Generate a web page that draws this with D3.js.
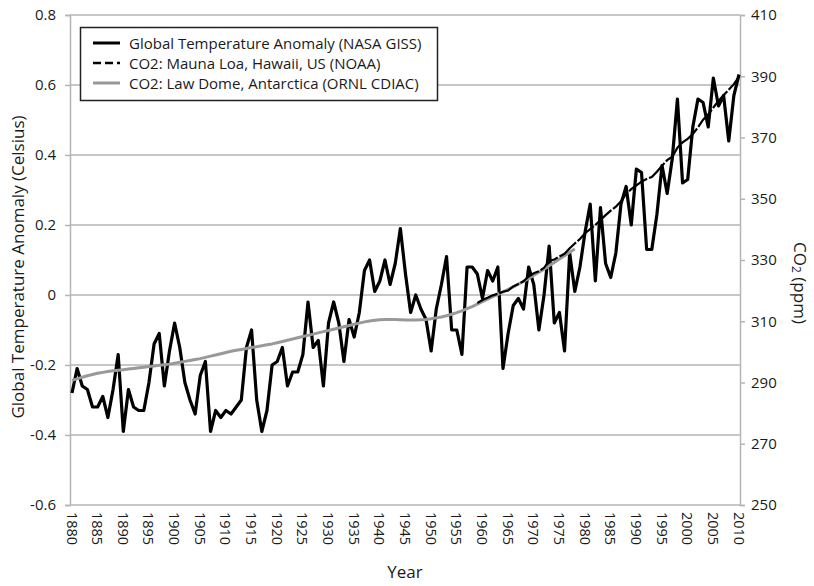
<!DOCTYPE html>
<html>
<head>
<meta charset="utf-8">
<script src="https://cdn.jsdelivr.net/npm/d3@7"></script>
<style>
  html, body { margin: 0; padding: 0; background: #fff; }
  svg text { font-family: "Open Sans", "Noto Sans", sans-serif; fill: #1a1a1a; }
</style>
</head>
<body>
<svg id="chart" width="814" height="586"></svg>
<script>
// Global temperature anomaly, NASA GISS annual means, 1880-2010 (°C)
const gissStartYear = 1880;
const gissAnomaly = [
  -0.28,-0.21,-0.26,-0.27,-0.32,-0.32,-0.29,-0.35,-0.27,-0.17,
  -0.39,-0.27,-0.32,-0.33,-0.33,-0.25,-0.14,-0.11,-0.26,-0.16,
  -0.08,-0.15,-0.25,-0.30,-0.34,-0.23,-0.19,-0.39,-0.33,-0.35,
  -0.33,-0.34,-0.32,-0.30,-0.15,-0.10,-0.30,-0.39,-0.33,-0.20,
  -0.19,-0.15,-0.26,-0.22,-0.22,-0.17,-0.02,-0.15,-0.13,-0.26,
  -0.08,-0.02,-0.08,-0.19,-0.07,-0.12,-0.05, 0.07, 0.10, 0.01,
   0.04, 0.10, 0.03, 0.09, 0.19, 0.06,-0.05, 0.00,-0.04,-0.07,
  -0.16,-0.04, 0.03, 0.11,-0.10,-0.10,-0.17, 0.08, 0.08, 0.06,
  -0.01, 0.07, 0.04, 0.08,-0.21,-0.11,-0.03,-0.01,-0.04, 0.08,
   0.03,-0.10, 0.00, 0.14,-0.08,-0.05,-0.16, 0.12, 0.01, 0.08,
   0.18, 0.26, 0.04, 0.25, 0.09, 0.05, 0.12, 0.26, 0.31, 0.20,
   0.36, 0.35, 0.13, 0.13, 0.23, 0.37, 0.29, 0.39, 0.56, 0.32,
   0.33, 0.48, 0.56, 0.55, 0.48, 0.62, 0.54, 0.57, 0.44, 0.57,
   0.63
];

// CO2, Mauna Loa annual means 1959-2010 (ppm)
const maunaLoaStartYear = 1959;
const maunaLoaCO2 = [
  315.97,316.91,317.64,318.45,318.99,319.62,320.04,321.38,322.16,323.04,
  324.62,325.68,326.32,327.45,329.68,330.18,331.11,332.04,333.83,335.40,
  336.84,338.75,340.11,341.45,343.05,344.65,346.12,347.42,349.19,351.57,
  353.12,354.39,355.61,356.45,357.10,358.83,360.82,362.61,363.73,366.70,
  368.38,369.55,371.14,373.28,375.80,377.52,379.80,381.90,383.79,385.60,
  387.43,389.90
];

// CO2, Law Dome ice core (smoothed) 1880-1978 (ppm)
const lawDomeStartYear = 1880;
const lawDomeCO2 = [
  290.7,291.2,291.7,292.2,292.6,293.0,293.3,293.6,293.8,294.0,
  294.2,294.4,294.6,294.8,295.0,295.2,295.4,295.6,295.8,296.0,
  296.3,296.6,296.9,297.2,297.5,297.8,298.2,298.6,299.0,299.4,
  299.8,300.2,300.5,300.8,301.1,301.4,301.7,302.0,302.3,302.6,
  303.0,303.4,303.8,304.2,304.6,305.0,305.4,305.8,306.2,306.6,
  307.0,307.4,307.8,308.2,308.6,309.0,309.4,309.8,310.1,310.3,
  310.5,310.6,310.6,310.6,310.5,310.4,310.4,310.4,310.5,310.6,
  310.8,311.1,311.4,311.8,312.3,312.8,313.4,314.1,314.8,315.6,
  316.4,317.2,318.0,318.8,319.6,320.4,321.2,322.1,323.0,324.0,
  325.0,326.0,327.0,328.1,329.2,330.3,331.4,332.5,333.6
];

// Axis ticks
const yearTicks = [1880,1885,1890,1895,1900,1905,1910,1915,1920,1925,1930,1935,1940,
                   1945,1950,1955,1960,1965,1970,1975,1980,1985,1990,1995,2000,2005,2010];
const tempTicks = [-0.6,-0.4,-0.2,0,0.2,0.4,0.6,0.8];
const co2Ticks = [250,270,290,310,330,350,370,390,410];

// Legend entries
const legendItems = [
  {label: "Global Temperature Anomaly (NASA GISS)", stroke: "#000", dash: null, width: 3},
  {label: "CO2: Mauna Loa, Hawaii, US (NOAA)", stroke: "#000", dash: "8,4", width: 2.5},
  {label: "CO2: Law Dome, Antarctica (ORNL CDIAC)", stroke: "#999", dash: null, width: 3}
];

const toSeries = (start, values) => values.map((v, i) => ({year: start + i, value: v}));
const tempData = toSeries(gissStartYear, gissAnomaly);
const maunaLoa = toSeries(maunaLoaStartYear, maunaLoaCO2);
const lawDome = toSeries(lawDomeStartYear, lawDomeCO2);

const plot = {left: 70, right: 740, top: 15, bottom: 505};

const x = d3.scaleLinear().domain([1880, 2010]).range([72, 739]);
const yT = d3.scaleLinear().domain([-0.6, 0.8]).range([plot.bottom, plot.top]);
const yC = d3.scaleLinear().domain([250, 410]).range([plot.bottom, plot.top]);

const svg = d3.select("#chart");
const gridColor = "#b5b5b5";

// Horizontal gridlines at the temperature ticks
svg.append("g")
  .selectAll("line")
  .data(tempTicks)
  .join("line")
  .attr("x1", plot.left).attr("x2", plot.right)
  .attr("y1", d => yT(d)).attr("y2", d => yT(d))
  .attr("stroke", gridColor).attr("stroke-width", 1.5);

// Left axis
const fmtTemp = d => d === 0 ? "0" : d.toFixed(1);
const leftAxis = svg.append("g")
  .attr("transform", `translate(${plot.left},0)`)
  .call(d3.axisLeft(yT).tickValues(tempTicks).tickSize(5).tickPadding(9).tickFormat(fmtTemp));
leftAxis.select(".domain").attr("stroke", gridColor).attr("stroke-width", 1.5);
leftAxis.selectAll(".tick line").attr("stroke", gridColor).attr("stroke-width", 1.5);
leftAxis.selectAll(".tick text").style("font-size", "15px").style("fill", "#1a1a1a");

// Right axis
const rightAxis = svg.append("g")
  .attr("transform", `translate(${plot.right},0)`)
  .call(d3.axisRight(yC).tickValues(co2Ticks).tickSize(5).tickPadding(6).tickFormat(d3.format("d")));
rightAxis.select(".domain").attr("stroke", gridColor).attr("stroke-width", 1.5);
rightAxis.selectAll(".tick line").attr("stroke", gridColor).attr("stroke-width", 1.5);
rightAxis.selectAll(".tick text").style("font-size", "15px").style("fill", "#1a1a1a");

// Bottom axis: rotated year labels
svg.append("g")
  .selectAll("text")
  .data(yearTicks)
  .join("text")
  .attr("transform", d => `translate(${x(d)},${plot.bottom + 7}) rotate(90)`)
  .attr("text-anchor", "start")
  .attr("dominant-baseline", "central")
  .style("font-size", "14.5px")
  .text(d => d);

// Series lines
const lineT = d3.line().x(d => x(d.year)).y(d => yT(d.value));
const lineC = d3.line().x(d => x(d.year)).y(d => yC(d.value));

svg.append("path")
  .datum(tempData)
  .attr("d", lineT)
  .attr("fill", "none")
  .attr("stroke", "#000")
  .attr("stroke-width", 3.2)
  .attr("stroke-linejoin", "round");

svg.append("path")
  .datum(lawDome)
  .attr("d", lineC)
  .attr("fill", "none")
  .attr("stroke", "#999")
  .attr("stroke-width", 3)
  .attr("stroke-linejoin", "round");

svg.append("path")
  .datum(maunaLoa)
  .attr("d", lineC)
  .attr("fill", "none")
  .attr("stroke", "#000")
  .attr("stroke-width", 2.2)
  .attr("stroke-dasharray", "22,2");

// Legend
const legend = svg.append("g");
legend.append("rect")
  .attr("x", 80.5).attr("y", 27.5).attr("width", 357).attr("height", 73)
  .attr("fill", "#fff").attr("stroke", "#222").attr("stroke-width", 1.5);
const rows = legend.selectAll("g.item")
  .data(legendItems)
  .join("g")
  .attr("class", "item")
  .attr("transform", (d, i) => `translate(0,${43 + i * 20})`);
rows.append("line")
  .attr("x1", 93).attr("x2", 120).attr("y1", 0).attr("y2", 0)
  .attr("stroke", d => d.stroke)
  .attr("stroke-width", d => d.width)
  .attr("stroke-dasharray", d => d.dash);
rows.append("text")
  .attr("x", 129).attr("y", 0)
  .attr("dominant-baseline", "central")
  .style("font-size", "15px")
  .text(d => d.label);

// Axis titles
svg.append("text")
  .attr("transform", "translate(17,267) rotate(-90)")
  .attr("text-anchor", "middle")
  .attr("dominant-baseline", "central")
  .style("font-size", "17px")
  .text("Global Temperature Anomaly (Celsius)");

const co2Title = svg.append("text")
  .attr("transform", "translate(801,283) rotate(90)")
  .attr("text-anchor", "middle")
  .attr("dominant-baseline", "central")
  .style("font-size", "17px");
co2Title.append("tspan").text("CO");
co2Title.append("tspan").attr("dy", 4).style("font-size", "12px").text("2");
co2Title.append("tspan").attr("dy", -4).text(" (ppm)");

svg.append("text")
  .attr("x", 405).attr("y", 578)
  .attr("text-anchor", "middle")
  .style("font-size", "17px")
  .text("Year");
</script>
</body>
</html>
